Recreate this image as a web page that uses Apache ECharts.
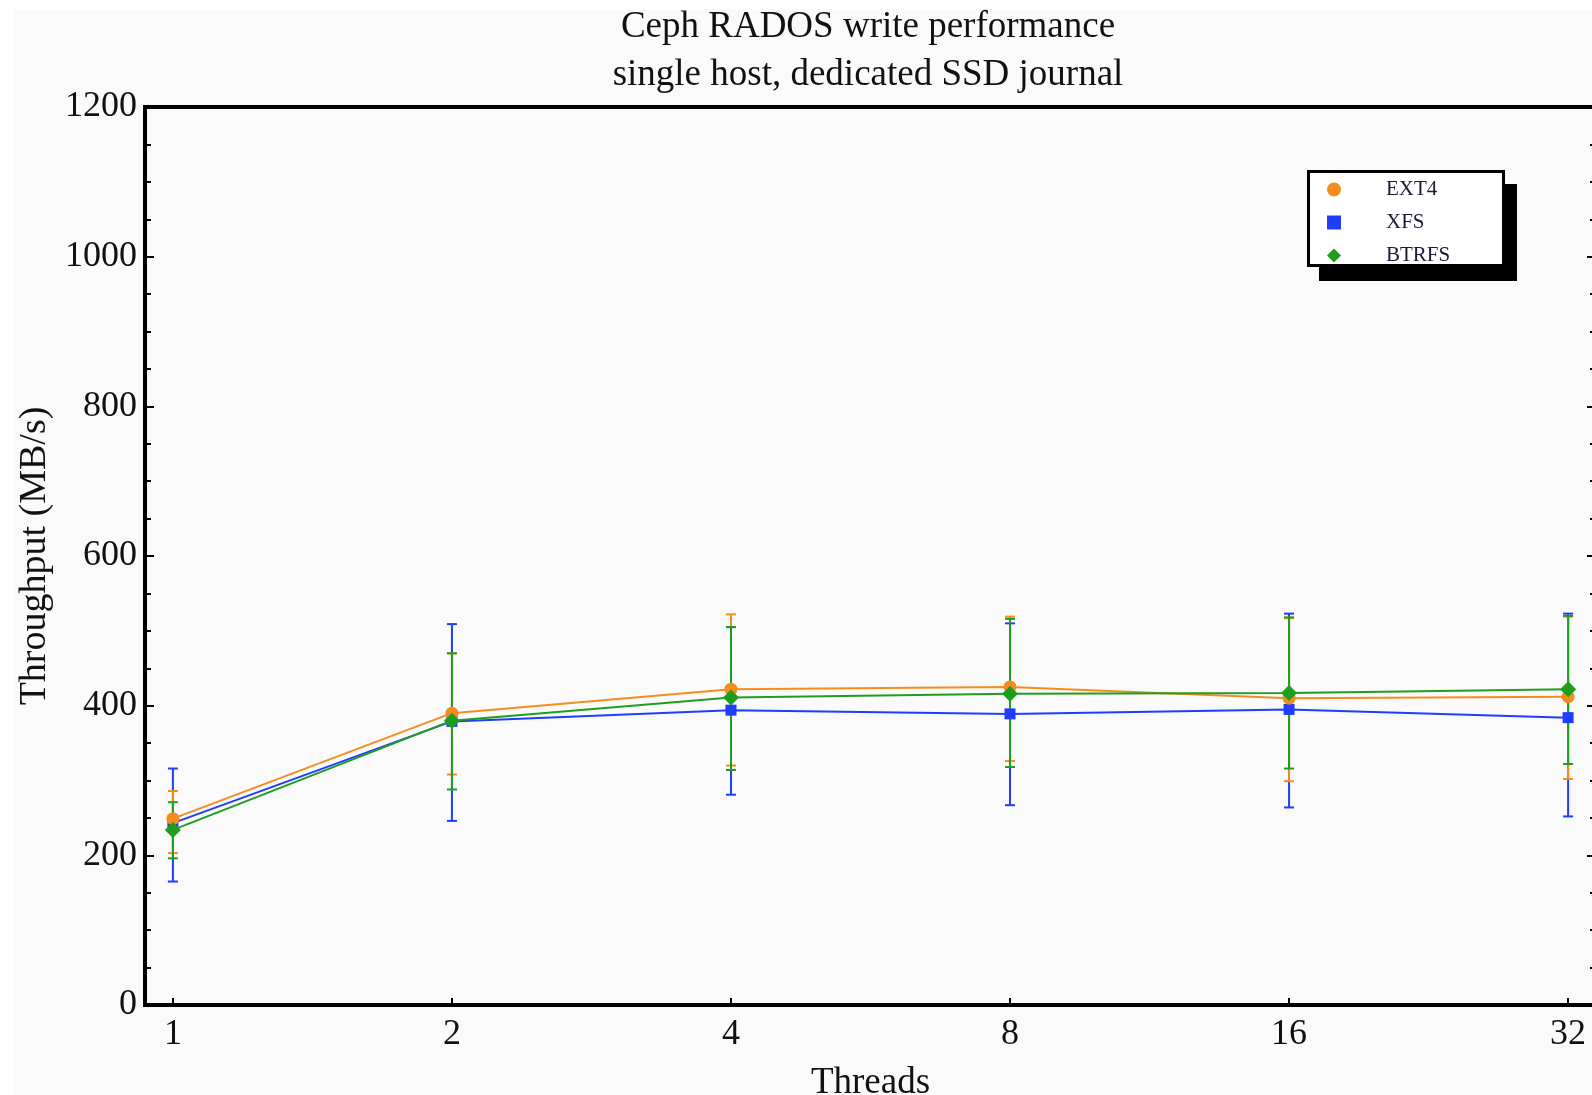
<!DOCTYPE html>
<html>
<head>
<meta charset="utf-8">
<script src="https://cdn.jsdelivr.net/npm/echarts@6/dist/echarts.min.js"></script>
<style>
  html, body { margin: 0; padding: 0; background: #fff; overflow: hidden; }
  #chart { width: 1592px; height: 1095px; }
</style>
</head>
<body>
<div id="chart"></div>
<script>
'use strict'
// Thread counts (x categories)
var threads = ['1', '2', '4', '8', '16', '32']
// Mean throughput (MB/s)
var ext4 = [249, 390, 422, 425, 410, 412]
var xfs = [243, 379, 394, 389, 395, 384]
var btrfs = [234, 380, 411, 416, 417, 422]
// Error bar ends
var ext4Low = [203, 308, 320, 326, 299, 302]
var ext4High = [286, 470, 522, 519, 517, 519]
var xfsLow = [165, 246, 281, 267, 264, 252]
var xfsHigh = [316, 509, 505, 510, 523, 523]
var btrfsLow = [196, 288, 314, 318, 316, 322]
var btrfsHigh = [271, 470, 505, 516, 518, 520]
var yTicks = [0, 200, 400, 600, 800, 1000, 1200]

var orange = '#f78c1e'
var blue = '#1f3dff'
var green = '#1e9e1e'
var serif = 'Liberation Serif'

function points (vals) {
  return vals.map(function (v, i) { return [i, v] })
}

function errorBars (name, low, high, color, z) {
  return {
    name: name,
    type: 'custom',
    z: z,
    silent: true,
    encode: { x: 0, y: [1, 2] },
    data: low.map(function (v, i) { return [i, v, high[i]] }),
    renderItem: function (params, api) {
      var top = api.coord([api.value(0), api.value(2)])
      var bot = api.coord([api.value(0), api.value(1)])
      var w = 5
      var st = { stroke: color, lineWidth: 2 }
      return {
        type: 'group',
        children: [
          { type: 'line', shape: { x1: top[0], y1: top[1], x2: bot[0], y2: bot[1] }, style: st },
          { type: 'line', shape: { x1: top[0] - w, y1: top[1], x2: top[0] + w, y2: top[1] }, style: st },
          { type: 'line', shape: { x1: bot[0] - w, y1: bot[1], x2: bot[0] + w, y2: bot[1] }, style: st }
        ]
      }
    }
  }
}

function lineSeries (name, vals, color, symbol, size, z) {
  return {
    name: name,
    type: 'line',
    z: z,
    data: points(vals),
    symbol: symbol,
    symbolSize: size,
    showAllSymbol: true,
    lineStyle: { color: color, width: 2 },
    itemStyle: { color: color },
    emphasis: { disabled: true }
  }
}

var chart = echarts.init(document.getElementById('chart'))

var tickIdx = threads.map(function (t, i) { return i })

chart.setOption({
  animation: false,
  backgroundColor: '#fff',
  graphic: [
    { type: 'rect', z: -10, silent: true, shape: { x: 14, y: 9, width: 1600, height: 1100 }, style: { fill: '#fafafa' } },
    // legend frame with drop shadow
    { type: 'rect', z: 20, silent: true, shape: { x: 1319, y: 184, width: 198, height: 97 }, style: { fill: '#000' } },
    { type: 'rect', z: 21, silent: true, shape: { x: 1308.5, y: 171.5, width: 195, height: 94 }, style: { fill: '#fff', stroke: '#000', lineWidth: 3 } }
  ],
  title: {
    text: 'Ceph RADOS write performance\nsingle host, dedicated SSD journal',
    left: 868,
    top: 3,
    textAlign: 'center',
    padding: 0,
    textStyle: { fontFamily: serif, fontSize: 37, fontWeight: 'normal', color: '#111', lineHeight: 48 }
  },
  legend: {
    orient: 'vertical',
    left: 1307,
    top: 170,
    z: 30,
    padding: [9, 58, 9, 20],
    itemGap: 12,
    itemWidth: 14,
    itemHeight: 14,
    selectedMode: false,
    textStyle: { fontFamily: serif, fontSize: 21, color: '#1a1a3a', padding: [0, 0, 0, 40], lineHeight: 20 },
    data: [
      { name: 'EXT4', icon: 'circle', itemStyle: { color: orange } },
      { name: 'XFS', icon: 'rect', itemStyle: { color: blue } },
      { name: 'BTRFS', icon: 'diamond', itemStyle: { color: green } }
    ]
  },
  grid: {
    left: 145,
    right: -4,
    top: 107,
    bottom: 90,
    outerBoundsMode: 'none',
    containLabel: false,
    show: true,
    borderColor: '#000',
    borderWidth: 4,
    backgroundColor: 'transparent'
  },
  xAxis: {
    type: 'value',
    min: -0.1,
    max: 5.1,
    name: 'Threads',
    nameLocation: 'middle',
    nameGap: 60,
    nameTextStyle: { fontFamily: serif, fontSize: 37, color: '#111' },
    axisLine: { show: true, onZero: false, lineStyle: { color: '#000', width: 4 } },
    axisTick: { show: true, inside: true, length: 7, customValues: tickIdx, lineStyle: { color: '#000', width: 2 } },
    axisLabel: {
      customValues: tickIdx,
      margin: 12,
      fontFamily: serif,
      fontSize: 36,
      color: '#111',
      formatter: function (v) { return threads[Math.round(v)] }
    },
    splitLine: { show: false }
  },
  yAxis: [
    {
      type: 'value',
      min: 0,
      max: 1200,
      interval: 200,
      name: 'Throughput (MB/s)',
      nameLocation: 'middle',
      nameGap: 88,
      nameRotate: 90,
      nameTextStyle: { fontFamily: serif, fontSize: 38, color: '#111' },
      axisLine: { show: true, onZero: false, lineStyle: { color: '#000', width: 4 } },
      axisTick: { show: true, inside: true, length: 9, lineStyle: { color: '#000', width: 2 } },
      minorTick: { show: true, splitNumber: 4, length: 6, lineStyle: { color: '#000', width: 2 } },
      axisLabel: {
        margin: 8,
        fontFamily: serif,
        fontSize: 36,
        color: '#111',
        customValues: yTicks,
        formatter: function (v) { return String(v) }
      },
      splitLine: { show: false },
      minorSplitLine: { show: false }
    },
    {
      type: 'value',
      min: 0,
      max: 1200,
      interval: 200,
      position: 'right',
      axisLine: { show: true, onZero: false, lineStyle: { color: '#000', width: 4 } },
      axisTick: { show: true, inside: true, length: 9, lineStyle: { color: '#000', width: 2 } },
      minorTick: { show: true, splitNumber: 4, length: 6, lineStyle: { color: '#000', width: 2 } },
      axisLabel: { show: false },
      splitLine: { show: false }
    }
  ],
  series: [
    errorBars('XFS err', xfsLow, xfsHigh, blue, 1),
    errorBars('EXT4 err', ext4Low, ext4High, orange, 2),
    errorBars('BTRFS err', btrfsLow, btrfsHigh, green, 3),
    lineSeries('XFS', xfs, blue, 'rect', 11, 4),
    lineSeries('EXT4', ext4, orange, 'circle', 13, 5),
    lineSeries('BTRFS', btrfs, green, 'diamond', 16, 6)
  ]
})
</script>
</body>
</html>
